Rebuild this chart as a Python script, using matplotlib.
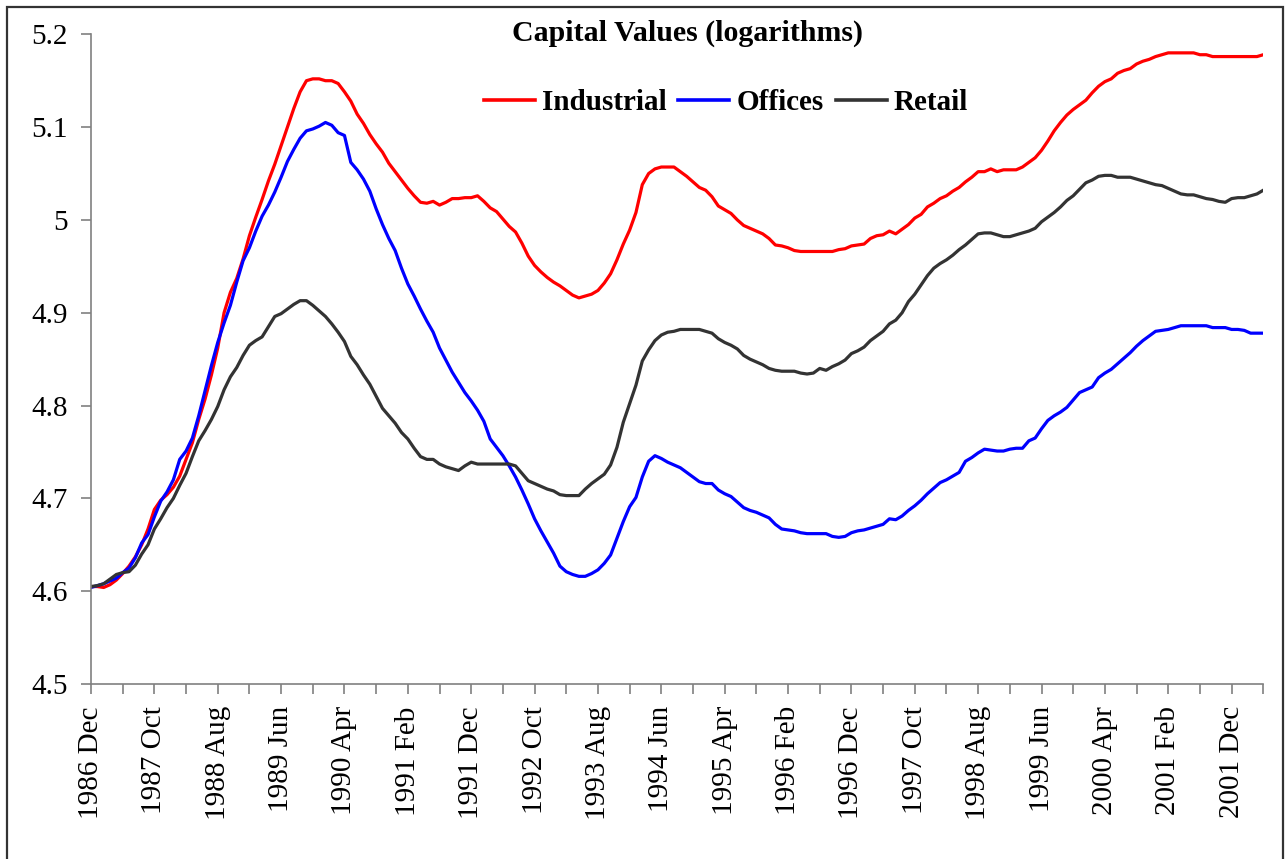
"""Capital values (logarithms) for Industrial, Offices and Retail, monthly 1986 Dec - 2002 May."""

import matplotlib
matplotlib.use("Agg")
import matplotlib.pyplot as plt
from matplotlib.patches import Rectangle
import numpy as np


# Section: Monthly series (first point = 1986 Dec, last = 2002 May).
industrial = [
    4.605, 4.605, 4.604, 4.607, 4.612, 4.619, 4.627, 4.637, 4.650, 4.667,
    4.688, 4.698, 4.704, 4.712, 4.724, 4.742, 4.760, 4.785, 4.807, 4.833,
    4.862, 4.900, 4.922, 4.937, 4.958, 4.983, 5.003, 5.022, 5.042, 5.060,
    5.080, 5.100, 5.120, 5.138, 5.150, 5.152, 5.152, 5.150, 5.150, 5.147,
    5.138, 5.128, 5.114, 5.104, 5.092, 5.082, 5.073, 5.061, 5.052, 5.043,
    5.034, 5.026, 5.019, 5.018, 5.020, 5.016, 5.019, 5.023, 5.023, 5.024,
    5.024, 5.026, 5.020, 5.013, 5.009, 5.001, 4.993, 4.987, 4.975, 4.961,
    4.951, 4.944, 4.938, 4.933, 4.929, 4.924, 4.919, 4.916, 4.918, 4.920,
    4.924, 4.932, 4.942, 4.957, 4.974, 4.989, 5.008, 5.038, 5.050, 5.055,
    5.057, 5.057, 5.057, 5.052, 5.047, 5.041, 5.035, 5.032, 5.025, 5.015,
    5.011, 5.007, 5.000, 4.994, 4.991, 4.988, 4.985, 4.980, 4.973, 4.972,
    4.970, 4.967, 4.966, 4.966, 4.966, 4.966, 4.966, 4.966, 4.968, 4.969,
    4.972, 4.973, 4.974, 4.980, 4.983, 4.984, 4.988, 4.985, 4.990, 4.995,
    5.002, 5.006, 5.014, 5.018, 5.023, 5.026, 5.031, 5.035, 5.041, 5.046,
    5.052, 5.052, 5.055, 5.052, 5.054, 5.054, 5.054, 5.057, 5.062, 5.067,
    5.075, 5.085, 5.096, 5.105, 5.113, 5.119, 5.124, 5.129, 5.137, 5.144,
    5.149, 5.152, 5.158, 5.161, 5.163, 5.168, 5.171, 5.173, 5.176, 5.178,
    5.180, 5.180, 5.180, 5.180, 5.180, 5.178, 5.178, 5.176, 5.176, 5.176,
    5.176, 5.176, 5.176, 5.176, 5.176, 5.178,
]

offices = [
    4.604, 4.606, 4.608, 4.611, 4.614, 4.620, 4.625, 4.636, 4.652, 4.661,
    4.680, 4.697, 4.707, 4.720, 4.742, 4.751, 4.765, 4.789, 4.816, 4.843,
    4.868, 4.889, 4.908, 4.933, 4.956, 4.970, 4.988, 5.004, 5.016, 5.030,
    5.046, 5.063, 5.076, 5.088, 5.096, 5.098, 5.101, 5.105, 5.102, 5.094,
    5.091, 5.062, 5.054, 5.044, 5.031, 5.012, 4.995, 4.980, 4.967, 4.948,
    4.931, 4.918, 4.904, 4.891, 4.879, 4.862, 4.849, 4.836, 4.825, 4.814,
    4.805, 4.795, 4.783, 4.764, 4.755, 4.746, 4.735, 4.723, 4.709, 4.694,
    4.678, 4.665, 4.653, 4.641, 4.627, 4.621, 4.618, 4.616, 4.616, 4.619,
    4.623, 4.630, 4.639, 4.657, 4.675, 4.691, 4.701, 4.723, 4.740, 4.746,
    4.743, 4.739, 4.736, 4.733, 4.728, 4.723, 4.718, 4.716, 4.716, 4.709,
    4.705, 4.702, 4.696, 4.690, 4.687, 4.685, 4.682, 4.679, 4.672, 4.667,
    4.666, 4.665, 4.663, 4.662, 4.662, 4.662, 4.662, 4.659, 4.658, 4.659,
    4.663, 4.665, 4.666, 4.668, 4.670, 4.672, 4.678, 4.677, 4.681, 4.687,
    4.692, 4.698, 4.705, 4.711, 4.717, 4.720, 4.724, 4.728, 4.740, 4.744,
    4.749, 4.753, 4.752, 4.751, 4.751, 4.753, 4.754, 4.754, 4.762, 4.765,
    4.775, 4.784, 4.789, 4.793, 4.798, 4.806, 4.814, 4.817, 4.820, 4.830,
    4.835, 4.839, 4.845, 4.851, 4.857, 4.864, 4.870, 4.875, 4.880, 4.881,
    4.882, 4.884, 4.886, 4.886, 4.886, 4.886, 4.886, 4.884, 4.884, 4.884,
    4.882, 4.882, 4.881, 4.878, 4.878, 4.878,
]

retail = [
    4.605, 4.606, 4.608, 4.613, 4.618, 4.620, 4.621, 4.628, 4.640, 4.650,
    4.667, 4.678, 4.690, 4.700, 4.714, 4.727, 4.745, 4.762, 4.773, 4.785,
    4.799, 4.817, 4.831, 4.841, 4.854, 4.865, 4.870, 4.874, 4.885, 4.896,
    4.899, 4.904, 4.909, 4.913, 4.913, 4.908, 4.902, 4.896, 4.888, 4.879,
    4.869, 4.853, 4.844, 4.833, 4.823, 4.810, 4.797, 4.789, 4.781, 4.771,
    4.764, 4.754, 4.745, 4.742, 4.742, 4.737, 4.734, 4.732, 4.730, 4.735,
    4.739, 4.737, 4.737, 4.737, 4.737, 4.737, 4.737, 4.735, 4.727, 4.719,
    4.716, 4.713, 4.710, 4.708, 4.704, 4.703, 4.703, 4.703, 4.710, 4.716,
    4.721, 4.726, 4.736, 4.755, 4.782, 4.802, 4.822, 4.848, 4.860, 4.870,
    4.876, 4.879, 4.880, 4.882, 4.882, 4.882, 4.882, 4.880, 4.878, 4.872,
    4.868, 4.865, 4.861, 4.854, 4.850, 4.847, 4.844, 4.840, 4.838, 4.837,
    4.837, 4.837, 4.835, 4.834, 4.835, 4.840, 4.838, 4.842, 4.845, 4.849,
    4.856, 4.859, 4.863, 4.870, 4.875, 4.880, 4.888, 4.892, 4.900, 4.912,
    4.920, 4.930, 4.940, 4.948, 4.953, 4.957, 4.962, 4.968, 4.973, 4.979,
    4.985, 4.986, 4.986, 4.984, 4.982, 4.982, 4.984, 4.986, 4.988, 4.991,
    4.998, 5.003, 5.008, 5.014, 5.021, 5.026, 5.033, 5.040, 5.043, 5.047,
    5.048, 5.048, 5.046, 5.046, 5.046, 5.044, 5.042, 5.040, 5.038, 5.037,
    5.034, 5.031, 5.028, 5.027, 5.027, 5.025, 5.023, 5.022, 5.020, 5.019,
    5.023, 5.024, 5.024, 5.026, 5.028, 5.032,
]

# Every 10th month gets a label, ticks every 5 months.
tick_labels = [
    "1986 Dec", "1987 Oct", "1988 Aug", "1989 Jun", "1990 Apr", "1991 Feb",
    "1991 Dec", "1992 Oct", "1993 Aug", "1994 Jun", "1995 Apr", "1996 Feb",
    "1996 Dec", "1997 Oct", "1998 Aug", "1999 Jun", "2000 Apr", "2001 Feb",
    "2001 Dec",
]
y_ticks = [4.5, 4.6, 4.7, 4.8, 4.9, 5.0, 5.1, 5.2]

series = [
    ("Industrial", industrial, "#ff0000"),
    ("Offices", offices, "#0000ff"),
    ("Retail", retail, "#333333"),
]


# Section: Build the figure in the old Excel look.
W, H = 1286, 859
plt.rcParams["font.family"] = ["Liberation Serif", "DejaVu Serif"]

fig = plt.figure(figsize=(W / 100, H / 100), dpi=100)
ax = fig.add_axes([91 / W, 1 - 684 / H, (1263.3 - 91) / W, (684 - 34.3) / H])

months = np.arange(len(industrial))
for name, values, color in series:
    ax.plot(months, values, color=color, lw=2.3, label=name, solid_joinstyle="round")

ax.set_xlim(0, len(industrial) - 1)
ax.set_ylim(4.5, 5.2)

ax.set_yticks(y_ticks)
ax.set_yticklabels([f"{v:g}" for v in y_ticks])

tick_pos = np.arange(0, len(industrial), 5)
labels = [tick_labels[p // 10] if p % 10 == 0 else "" for p in tick_pos]
ax.set_xticks(tick_pos)
ax.set_xticklabels(labels, rotation=90, va="top", ha="center")

for side in ("top", "right"):
    ax.spines[side].set_visible(False)
for side in ("left", "bottom"):
    ax.spines[side].set_color("#808080")
    ax.spines[side].set_linewidth(1.2)
ax.tick_params(axis="both", direction="out", length=7, width=1.2, color="#808080",
               labelsize=21, labelcolor="black")
ax.tick_params(axis="y", pad=10)
ax.tick_params(axis="x", pad=9)

fig.text(687 / W, 1 - 33 / H, "Capital Values (logarithms)", ha="center", va="center",
         fontsize=21.5, fontweight="bold")

leg = ax.legend(loc="center", bbox_to_anchor=(726 / W, 1 - 103 / H), bbox_transform=fig.transFigure,
                ncol=3, frameon=False, handlelength=1.75, handletextpad=0.25, columnspacing=0.4,
                prop={"size": 21, "weight": "bold"})
for line in leg.get_lines():
    line.set_linewidth(2.6)

# Chart-area border (bottom edge falls off the image).
fig.patches.append(Rectangle((7 / W, -0.02), (1283 - 7) / W, 1 - 7 / H + 0.02,
                             transform=fig.transFigure, fill=False, edgecolor="#333333", lw=1.6))

fig.savefig("out.png", dpi=100)
